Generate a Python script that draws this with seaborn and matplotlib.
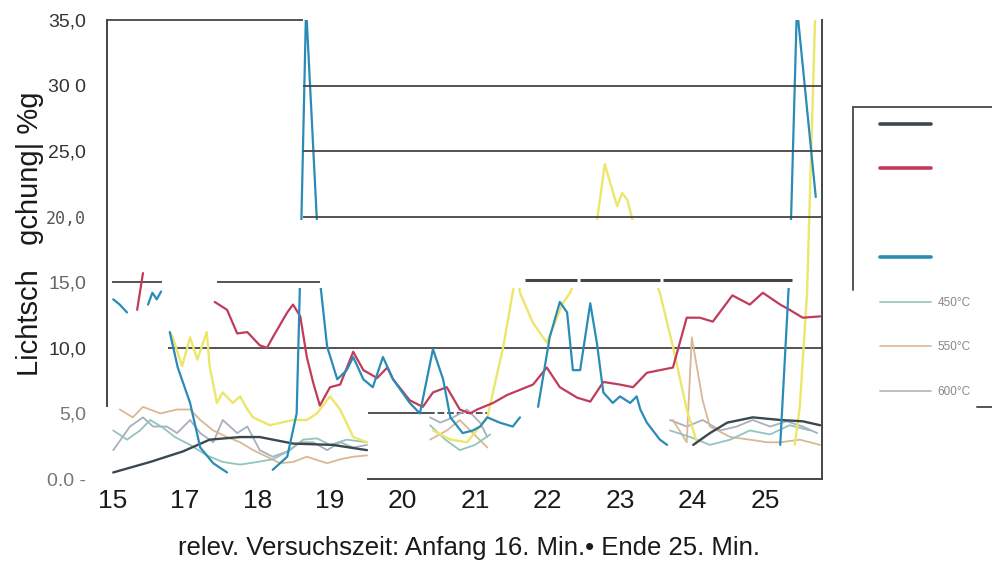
import numpy as np
import pandas as pd
import matplotlib
matplotlib.use("Agg")
import matplotlib.pyplot as plt
from matplotlib.lines import Line2D
import seaborn as sns

nan = np.nan

# ---------------- data ----------------
x_tick_pos = [16, 17, 18, 19, 20, 21, 22, 23, 24, 25]
x_tick_labels = ["15", "17", "18", "19", "20", "21", "22", "23", "24", "25"]
y_tick_values = [0, 5, 10, 15, 20, 25, 30, 35]
y_tick_labels = ["0.0 -", "5,0", "10,0", "15,0", "20,0", "25,0", "30 0", "35,0"]

slate_x = [16.01, 16.52, 16.97, 17.34, 17.76, 18.03, 18.49, 19.04, 19.51, nan,
           24.01, 24.24, 24.48, 24.83, 25.21, 25.52, 25.76]
slate_y = [0.5, 1.3, 2.1, 3.0, 3.2, 3.2, 2.7, 2.6, 2.2, nan,
           2.6, 3.5, 4.3, 4.7, 4.5, 4.4, 4.1]

red_x = [16.34, 16.42, nan, 17.41, 17.58, 17.72, 17.86, 18.03, 18.13, 18.21, 18.41, 18.49,
         18.59, 18.68, 18.77, 18.86, 19.00, 19.14, 19.32, 19.46, 19.65, 19.79, 19.87,
         20.10, 20.28, 20.42, 20.61, 20.79, 20.93, 21.03, 21.25, 21.44, 21.62, 21.80,
         21.99, 22.17, 22.41, 22.59, 22.77, 23.00, 23.18, 23.37, 23.55, 23.73, 23.92,
         24.10, 24.28, 24.55, 24.79, 24.97, 25.21, 25.34, 25.52, 25.76]
red_y = [12.9, 15.7, nan, 13.5, 12.9, 11.1, 11.2, 10.2, 10.0, 10.8, 12.7, 13.3,
         12.4, 9.3, 7.3, 5.6, 7.0, 7.2, 9.7, 8.3, 7.7, 8.5, 7.6,
         6.0, 5.5, 6.6, 7.0, 5.3, 5.0, 5.3, 5.8, 6.4, 6.8, 7.2,
         8.5, 7.0, 6.2, 5.9, 7.4, 7.2, 7.0, 8.1, 8.3, 8.5, 12.3,
         12.3, 12.0, 14.0, 13.3, 14.2, 13.3, 12.9, 12.3, 12.4]

blue_x = [16.01, 16.10, 16.20, nan, 16.49, 16.55, 16.61, 16.67, nan,
          16.79, 16.90, 17.07, 17.21, 17.39, 17.58, nan,
          18.21, 18.41, 18.54, 18.59, 18.67, 18.82, 18.86, 18.96,
          19.10, 19.23, 19.32, 19.46, 19.59, 19.73, 19.87,
          20.10, 20.24, 20.42, 20.56, 20.66, 20.83, 20.97,
          21.07, 21.17, 21.34, 21.52, 21.62, nan,
          21.87, 22.03, 22.17, 22.27, 22.35, 22.45, 22.59, 22.68, 22.77, 22.90,
          23.00, 23.14, 23.23, 23.28, 23.37, 23.55, 23.65, nan,
          25.21, 25.34, 25.44, 25.70]
blue_y = [13.7, 13.3, 12.7, nan, 13.3, 14.2, 13.7, 14.3, nan,
          11.2, 8.5, 5.8, 2.4, 1.2, 0.5, nan,
          0.7, 1.7, 5.0, 15.9, 36.0, 19.6, 15.2, 10.1,
          7.6, 8.3, 9.3, 7.6, 7.0, 9.3, 7.6,
          5.8, 5.0, 9.9, 7.6, 4.7, 3.5, 3.7,
          4.0, 4.7, 4.3, 4.0, 4.7, nan,
          5.5, 10.8, 13.5, 12.7, 8.3, 8.3, 13.4, 10.4, 6.6, 5.8,
          6.3, 5.8, 6.3, 5.3, 4.3, 3.0, 2.6, nan,
          2.6, 16.0, 36.0, 21.5]

yellow_x = [16.79, 16.83, 16.96, 17.07, 17.17, 17.30, 17.34, 17.44, 17.52, 17.66, 17.76,
            17.86, 17.94, 18.17, 18.49, 18.68, 18.82, 19.00, 19.14, 19.32, 19.51, nan,
            20.42, 20.66, 20.89, 21.17, 21.39, 21.52, 21.58, 21.62, 21.80, 21.99, 22.21,
            22.31, 22.52, 22.68, 22.79, 22.96, 23.03, 23.10, 23.18, 23.34, 23.55, 23.73,
            23.92, 24.06, nan, 25.41, 25.48, 25.58, 25.69, 25.73]
yellow_y = [11.2, 10.8, 8.6, 10.8, 9.1, 11.2, 8.6, 5.8, 6.6, 5.8, 6.3,
            5.3, 4.7, 4.1, 4.5, 4.5, 5.0, 6.3, 5.3, 3.2, 2.8, nan,
            3.7, 3.0, 2.8, 4.7, 10.1, 14.2, 16.0, 14.2, 11.9, 10.4, 13.4,
            14.2, 17.1, 19.6, 24.0, 20.8, 21.8, 21.3, 19.6, 17.1, 14.2, 10.1,
            5.3, 2.8, nan, 2.6, 5.5, 14.2, 35.0, 37.0]

c450_x = [16.01, 16.20, 16.38, 16.52, 16.70, 16.86, 17.07, 17.30, 17.52, 17.76, 18.00,
          18.21, 18.45, 18.63, 18.82, 19.00, 19.23, 19.51, nan,
          20.38, 20.59, 20.79, 21.00, 21.21, nan,
          23.69, 23.97, 24.24, 24.52, 24.79, 25.07, 25.34, 25.62]
c450_y = [3.7, 3.0, 3.7, 4.5, 3.9, 3.2, 2.6, 1.8, 1.3, 1.1, 1.3,
          1.5, 2.2, 3.0, 3.1, 2.6, 3.0, 2.8, nan,
          4.1, 3.0, 2.2, 2.6, 3.4, nan,
          3.7, 3.2, 2.6, 3.0, 3.7, 3.4, 4.1, 3.7]

c550_x = [16.10, 16.28, 16.42, 16.66, 16.89, 17.07, 17.21, 17.39, 17.58, 17.76, 17.94,
          18.13, 18.31, 18.49, 18.68, 18.96, 19.14, 19.32, 19.51, nan,
          20.38, 20.61, 20.79, 20.97, 21.17, nan,
          23.73, 23.92, 23.99, 24.08, 24.14, 24.24, 24.52, 24.79, 25.03, 25.21, 25.48, 25.76]
c550_y = [5.3, 4.7, 5.5, 5.0, 5.3, 5.3, 4.5, 3.7, 3.2, 2.8, 2.2,
          1.7, 1.2, 1.3, 1.7, 1.2, 1.5, 1.7, 1.8, nan,
          3.0, 3.7, 4.5, 3.5, 2.4, nan,
          4.5, 2.8, 10.8, 7.9, 6.0, 4.0, 3.2, 3.0, 2.8, 2.8, 3.0, 2.6]

c600_x = [16.01, 16.24, 16.42, 16.56, 16.75, 16.89, 17.07, 17.21, 17.39, 17.52, 17.72,
          17.86, 18.03, 18.21, 18.41, 18.59, 18.77, 18.96, 19.14, 19.32, 19.51, nan,
          20.38, 20.52, 20.70, 20.89, 21.07, 21.17, nan,
          23.69, 23.92, 24.14, 24.38, 24.61, 24.83, 25.07, 25.30, 25.52, 25.72]
c600_y = [2.2, 4.0, 4.7, 4.0, 4.0, 3.5, 4.5, 3.5, 2.8, 4.5, 3.5,
          4.0, 2.2, 1.7, 2.1, 2.8, 2.8, 2.2, 2.8, 2.4, 2.6, nan,
          4.7, 4.3, 4.7, 5.3, 4.3, 3.2, nan,
          4.5, 4.0, 4.5, 3.7, 4.0, 4.5, 4.0, 4.4, 4.0, 3.5]

legend_labels = [" ", " ", " ", " ", "450\u00b0C", "550\u00b0C", "600\u00b0C"]

# ---------------- style ----------------
sns.set_style("white")
plt.rcParams["font.family"] = ["Liberation Sans", "DejaVu Sans"]

W, H = 992, 571
fig = plt.figure(figsize=(W / 100, H / 100), dpi=100)
ax_left, ax_right, ax_bottom_px, ax_top_px = 107, 822, 479, 20
ax = fig.add_axes([ax_left / W, (H - ax_bottom_px) / H,
                   (ax_right - ax_left) / W, (ax_bottom_px - ax_top_px) / H])
XMIN, XMAX = 15.924, 25.786
ax.set_xlim(XMIN, XMAX)
ax.set_ylim(0, 35)

COL_SLATE = "#3b4850"
COL_RED = "#c03c5a"
COL_BLUE = "#2a8cb6"
COL_YEL = "#ece76a"
COL_450 = "#93c4bd"
COL_550 = "#d9b896"
COL_600 = "#a8b0bd"
GRID = "#454545"


def draw(xs, ys, color, lw, z):
    xs = np.asarray(xs, float)
    ys = np.asarray(ys, float)
    gap = np.isnan(xs) | np.isnan(ys)
    seg = np.cumsum(gap)
    df = pd.DataFrame({"x": xs, "y": ys, "seg": seg})[~gap]
    sns.lineplot(data=df, x="x", y="y", units="seg", estimator=None, sort=False,
                 color=color, lw=lw, ax=ax, zorder=z, legend=False)


def xfrac(v):
    return (v - XMIN) / (XMAX - XMIN)


# partial reference lines
ax.hlines([30, 25, 20], 18.63, XMAX, colors=GRID, lw=1.3, zorder=8)
ax.hlines(35, XMIN, 18.63, colors=GRID, lw=1.3, zorder=8, clip_on=False)
ax.hlines(15, 15.99, 16.68, colors=GRID, lw=1.3, zorder=1)
ax.hlines(15, 17.44, 18.86, colors=GRID, lw=1.3, zorder=8)
for a, b in [(21.69, 22.41), (22.45, 23.55), (23.59, 25.37)]:
    ax.hlines(15.2, a, b, colors=GRID, lw=2.2, zorder=8)
ax.hlines(10, 16.77, XMAX, colors=GRID, lw=1.3, zorder=1)
ax.hlines(5, 19.52, 20.35, colors=GRID, lw=1.3, zorder=1)
ax.hlines(5, 20.35, 21.17, colors=GRID, lw=1.3, linestyles="--", zorder=1)

# blank band between the upper and lower panels of the source image
ax.axhspan(14.6, 19.75, xmin=xfrac(18.55), xmax=xfrac(25.45),
           facecolor="white", edgecolor="none", zorder=7)

draw(c600_x, c600_y, COL_600, 1.3, 2)
draw(c550_x, c550_y, COL_550, 1.3, 2)
draw(c450_x, c450_y, COL_450, 1.3, 2)
draw(yellow_x, yellow_y, COL_YEL, 1.7, 3)
draw(slate_x, slate_y, COL_SLATE, 1.7, 4)
draw(red_x, red_y, COL_RED, 1.6, 5)
draw(blue_x, blue_y, COL_BLUE, 1.6, 6)

# axes decoration
for s in ["left", "bottom", "right"]:
    ax.spines[s].set_color(GRID)
    ax.spines[s].set_linewidth(1.4)
ax.spines["top"].set_visible(False)
ax.spines["left"].set_bounds(5.6, 35)
ax.spines["bottom"].set_bounds(19.52, XMAX)
ax.spines["right"].set_bounds(0, 35)

ax.set_xticks(x_tick_pos)
ax.set_xticklabels(x_tick_labels, fontsize=19, color="#1a1a1a")
ax.set_yticks(y_tick_values)
ax.set_yticklabels(y_tick_labels, fontsize=14, color="#333333")
ax.tick_params(axis="x", length=0, pad=7)
ax.tick_params(axis="y", length=0, pad=15)
ytl = ax.get_yticklabels()
ytl[0].set_color("#777777")
ytl[1].set_color("#777777")
ytl[3].set_color("#666666")
ytl[4].set_family(["DejaVu Sans Mono"])
ytl[4].set_fontsize(12)
ytl[4].set_color("#555555")

ax.set_xlabel("relev. Versuchszeit: Anfang 16. Min.\u2022 Ende 25. Min.",
              fontsize=18.5, color="#1a1a1a")
ax.xaxis.set_label_coords(0.506, -0.125)
ax.set_ylabel("Lichtsch   gchung| %g", fontsize=21, color="#1a1a1a", va="center")
ax.yaxis.set_label_coords(-0.108, 0.535)

# legend
handles = [
    Line2D([], [], color=COL_SLATE, lw=2.6),
    Line2D([], [], color=COL_RED, lw=2.6),
    Line2D([], [], color="none", lw=2.6),
    Line2D([], [], color=COL_BLUE, lw=2.6),
    Line2D([], [], color=COL_450, lw=1.2),
    Line2D([], [], color=COL_550, lw=1.2),
    Line2D([], [], color="#b4b4b4", lw=1.2),
]
leg = fig.legend(handles, legend_labels, loc="upper left",
                 bbox_to_anchor=(880 / W, 1 - 119 / H), frameon=False,
                 fontsize=8.5, handlelength=4.3, handletextpad=0.55,
                 labelspacing=2.75, borderpad=0, borderaxespad=0)
for t in leg.get_texts():
    t.set_color("#888888")

# legend box edges (partial, as in the source)
fig.add_artist(Line2D([853 / W, 853 / W], [1 - 107 / H, 1 - 290 / H],
                      transform=fig.transFigure, color="#555555", lw=1.4))
fig.add_artist(Line2D([853 / W, 1.0], [1 - 107 / H, 1 - 107 / H],
                      transform=fig.transFigure, color="#555555", lw=1.4))
fig.add_artist(Line2D([977 / W, 1.0], [1 - 407 / H, 1 - 407 / H],
                      transform=fig.transFigure, color="#555555", lw=1.4))

fig.savefig("out.png", dpi=100)
